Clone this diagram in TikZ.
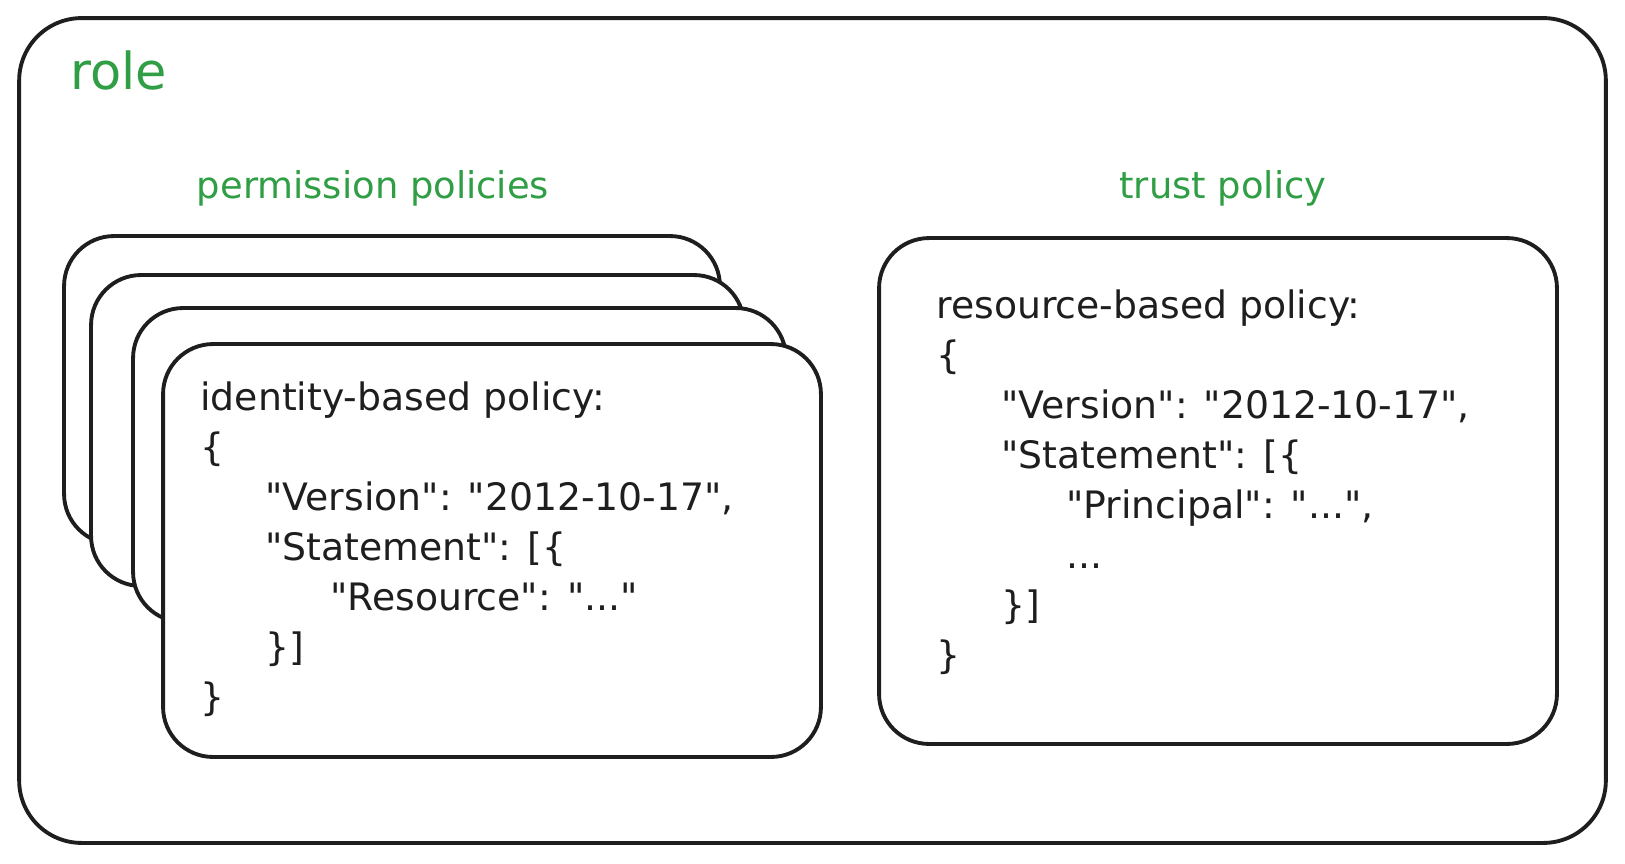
\documentclass[tikz,border=0pt]{standalone}
\usepackage{fontspec}
\setmainfont{DejaVu Sans}[Ligatures=TeXOff]
\definecolor{ink}{HTML}{1E1E1E}
\definecolor{grn}{HTML}{2F9E44}
\newcommand{\ind}{\hspace*{1.3cm}}
\begin{document}
\begin{tikzpicture}[
x=0.02cm, y=-0.02cm,
card/.style={
draw=ink,
fill=white,
line width=2.2pt,
rounded corners=1cm,
inner sep=0pt,
outer sep=0pt
},
title/.style={
text=grn,
font=\fontsize{21}{25}\selectfont,
inner sep=0pt
},
code/.style={
text=ink,
align=left,
anchor=north west,
inner sep=0pt,
font=\fontsize{21.5}{28.5}\selectfont
}
]

\useasboundingbox (0,0) rectangle (1625,863);

% outer role box
\node[card, rounded corners=1.25cm, minimum width=31.74cm, minimum height=16.5cm] (R) at (812.5,430.5) {};
\node[title, font=\fontsize{29}{33}\selectfont, anchor=west] (Rt) at (70,70) {role};

\node[title] (Pt) at (373,188) {permission policies};
\node[title] (Tt) at (1223,188) {trust policy};

% stacked permission policies
\node[card, minimum width=13.12cm, minimum height=6.16cm] (P1) at (392,390) {};
\node[card, minimum width=13.06cm, minimum height=6.22cm] (P2) at (417.5,430.5) {};
\node[card, minimum width=13.06cm, minimum height=6.28cm] (P3) at (459.5,465) {};
\node[card, minimum width=13.16cm, minimum height=8.26cm] (P4) at (492,550.5) {};

\node[code] (Pc) at (200,381) {%
identity-based policy:\\
\{\\
\ind"Version": "2012-10-17",\\
\ind"Statement": [\{\\
\ind\ind"Resource": "..."\\
\ind\}]\\
\}};

% trust policy
\node[card, minimum width=13.56cm, minimum height=10.12cm] (T) at (1218,491) {};

\node[code] (Tc) at (936,289) {%
resource-based policy:\\
\{\\
\ind"Version": "2012-10-17",\\
\ind"Statement": [\{\\
\ind\ind"Principal": "...",\\
\ind\ind...\\
\ind\}]\\
\}};

\end{tikzpicture}
\end{document}
